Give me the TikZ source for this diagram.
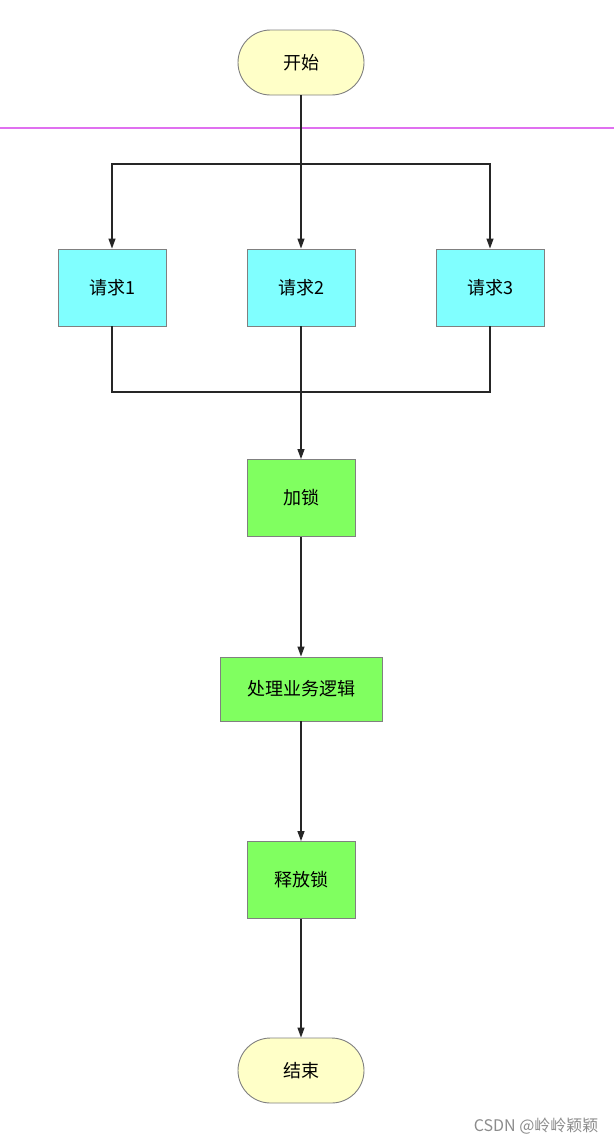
\documentclass[tikz,border=0pt]{standalone}
\usepackage{fontspec}
\setmainfont{Noto Sans CJK SC}
\usetikzlibrary{arrows.meta,shapes.misc}
\definecolor{termfill}{HTML}{FFFFC8}
\definecolor{reqfill}{HTML}{80FFFF}
\definecolor{stepfill}{HTML}{80FF60}
\definecolor{bordergray}{HTML}{808080}
\definecolor{pinkline}{HTML}{E070F0}
\tikzset{
  term/.style={rounded rectangle, draw=bordergray, fill=termfill, line width=0.9pt,
    minimum width=126pt, minimum height=65pt, inner sep=0pt, font=\fontsize{18}{21}\selectfont},
  reqbox/.style={rectangle, draw=bordergray, fill=reqfill, line width=0.9pt,
    minimum width=108pt, minimum height=77pt, inner sep=0pt, font=\fontsize{18}{21}\selectfont},
  stepbox/.style={rectangle, draw=bordergray, fill=stepfill, line width=0.9pt,
    minimum width=108pt, minimum height=77pt, inner sep=0pt, font=\fontsize{18}{21}\selectfont},
  conn/.style={draw=black!85, line width=1.2pt},
  arr/.style={conn, -{Triangle[length=10pt,width=7pt]}},
}
\begin{document}
\begin{tikzpicture}[x=1pt,y=-1pt]
\useasboundingbox (0,0) rectangle (614,1144);
\fill[white] (0,0) rectangle (614,1144);
\draw[pinkline, line width=1.4pt] (0,128) -- (614,128);

\node[term] (start) at (301,62.5) {开始};
\node[reqbox] (r1) at (112,287.5) {请求1};
\node[reqbox] (r2) at (301,287.5) {请求2};
\node[reqbox] (r3) at (490,287.5) {请求3};
\node[stepbox] (lock) at (301,498) {加锁};
\node[stepbox, minimum width=162pt, minimum height=64pt] (proc) at (301,689) {处理业务逻辑};
\node[stepbox] (unlock) at (301,880) {释放锁};
\node[term] (end) at (301,1070.5) {结束};

\coordinate (split) at (301,164);
\coordinate (merge) at (301,392);

\draw[arr] (start.south) -- (r2.north);
\draw[arr] (split) -| (r1.north);
\draw[arr] (split) -| (r3.north);
\draw[conn] (r1.south) |- (merge);
\draw[conn] (r3.south) |- (merge);
\draw[arr] (r2.south) -- (lock.north);
\draw[arr] (lock.south) -- (proc.north);
\draw[arr] (proc.south) -- (unlock.north);
\draw[arr] (unlock.south) -- (end.north);

\node[text=black!45, font=\fontsize{16}{18}\selectfont, anchor=east] (wm) at (602,1126) {CSDN @岭岭颖颖};
\end{tikzpicture}
\end{document}
